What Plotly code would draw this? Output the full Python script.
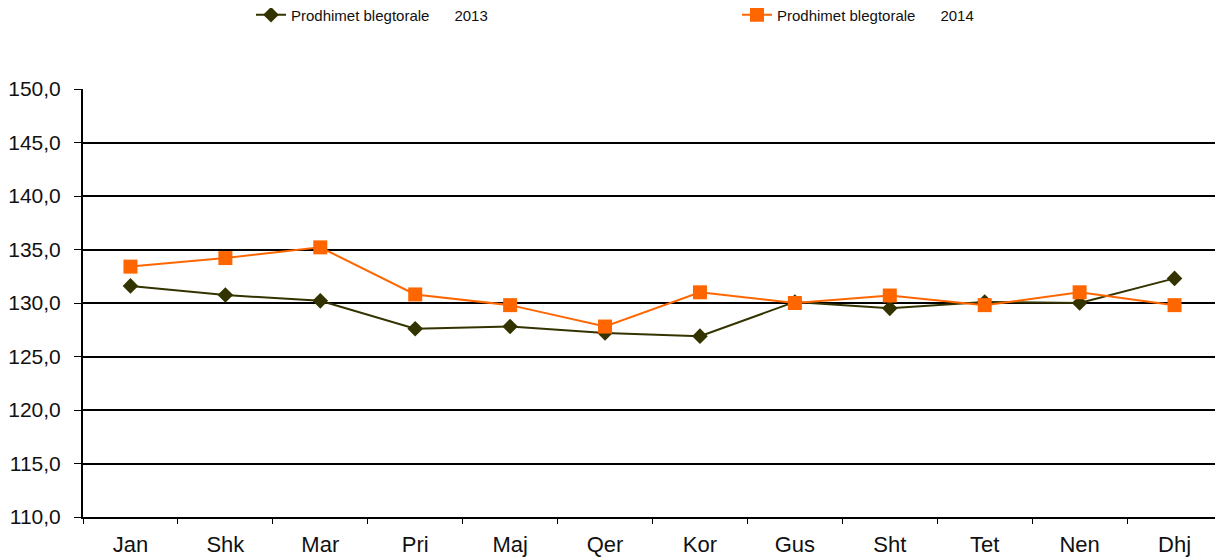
import plotly.graph_objects as go

months = ["Jan", "Shk", "Mar", "Pri", "Maj", "Qer", "Kor", "Gus", "Sht", "Tet", "Nen", "Dhj"]
vals_2013 = [131.6, 130.75, 130.2, 127.6, 127.8, 127.2, 126.9, 130.1, 129.5, 130.1, 130.0, 132.3]
vals_2014 = [133.4, 134.2, 135.2, 130.8, 129.8, 127.8, 131.0, 130.0, 130.7, 129.8, 131.0, 129.8]
gap = "\u00a0" * 6
name_2013 = "Prodhimet blegtorale" + gap + "2013"
name_2014 = "Prodhimet blegtorale" + gap + "2014"

# page body has an 8px margin; compensate so the plot lands where the reference has it
OFF = 8
L, R, T, B = 83 - OFF, 1, 89 - OFF, 41
W, H = 1223 - OFF, 558 - OFF
pw, ph = W - L - R, H - T - B

fig = go.Figure()
fig.add_trace(go.Scatter(
    x=months, y=vals_2013, name=name_2013, mode="lines+markers",
    line=dict(color="#333300", width=2),
    marker=dict(symbol="diamond", size=12, color="#333300"),
    legend="legend",
))
fig.add_trace(go.Scatter(
    x=months, y=vals_2014, name=name_2014, mode="lines+markers",
    line=dict(color="#FF6600", width=2),
    marker=dict(symbol="square", size=14, color="#FF6600"),
    legend="legend2",
))

leg_common = dict(
    orientation="h", xanchor="left", yanchor="middle",
    y=(ph + T - (15 - OFF)) / ph,
    font=dict(size=15, color="#111111"),
    bgcolor="rgba(0,0,0,0)",
)

fig.update_layout(
    width=W, height=H,
    margin=dict(l=L, r=R, t=T, b=B, autoexpand=False),
    plot_bgcolor="white", paper_bgcolor="white",
    separators=",.",
    font=dict(family="Liberation Sans, Arial, sans-serif", color="#111111"),
    showlegend=True,
    legend=dict(x=(251 - 83) / pw, **leg_common),
    legend2=dict(x=(737 - 83) / pw, **leg_common),
    xaxis=dict(
        type="category", showgrid=False, showline=True, linecolor="black", linewidth=2,
        ticks="outside", tickson="boundaries", ticklen=5, tickcolor="black", tickwidth=1,
        ticklabelstandoff=7,
        tickfont=dict(size=22, color="#111111"), range=[-0.5, 11.5],
    ),
    yaxis=dict(
        range=[110, 150], dtick=5, tickformat=".1f", showgrid=True, gridcolor="black",
        gridwidth=2, showline=True, linecolor="black", linewidth=2,
        ticks="outside", ticklen=7, tickcolor="black", tickwidth=1,
        ticklabelstandoff=9,
        tickfont=dict(size=21, color="#111111"), zeroline=False,
    ),
)

fig.write_html("out.html")
